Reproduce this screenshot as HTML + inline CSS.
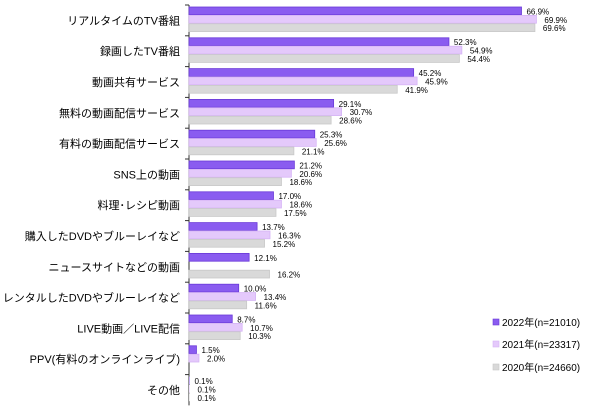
<!DOCTYPE html>
<html><head><meta charset="utf-8"><style>
body{margin:0;background:#fff;width:600px;height:413px;overflow:hidden;font-family:"Liberation Sans","Noto Sans CJK JP",sans-serif}
svg text{font-family:"Liberation Sans","Noto Sans CJK JP",sans-serif}
</style></head><body>
<svg id="c" width="600" height="413"></svg>
<script>
const categories=["リアルタイムのTV番組","録画したTV番組","動画共有サービス","無料の動画配信サービス","有料の動画配信サービス","SNS上の動画","料理･レシピ動画","購入したDVDやブルーレイなど","ニュースサイトなどの動画","レンタルしたDVDやブルーレイなど","LIVE動画／LIVE配信","PPV(有料のオンラインライブ)","その他"];
const s2022=[66.9,52.3,45.2,29.1,25.3,21.2,17.0,13.7,12.1,10.0,8.7,1.5,0.1];
const s2021=[69.9,54.9,45.9,30.7,25.6,20.6,18.6,16.3,null,13.4,10.7,2.0,0.1];
const s2020=[69.6,54.4,41.9,28.6,21.1,18.6,17.5,15.2,16.2,11.6,10.3,null,0.1];
const seriesNames=["2022年(n=21010)","2021年(n=23317)","2020年(n=24660)"];
const svg=document.getElementById('c');const NS="http://www.w3.org/2000/svg";
const X0=189,PX=4.97,Y0=5,GH=30.8,BH=8.4;
const fills=["#8a5cf0","#e4c9fb","#d9d9d9"],strokes=["#6a3ad8","#d6b4f6","#c8c8c8"];
const x=v=>X0+v*PX;
function el(t,a,txt){const e=document.createElementNS(NS,t);for(const k in a)e.setAttribute(k,a[k]);if(txt!=null)e.textContent=txt;svg.appendChild(e);return e;}
let ax=el('line',{x1:X0,y1:Y0,x2:X0,y2:Y0+GH*categories.length,stroke:'#333','stroke-width':1});

const series=[s2022,s2021,s2020];
categories.forEach((c,i)=>{
 const gy=Y0+i*GH;
 let tk=el('line',{x1:X0-4,y1:gy,x2:X0,y2:gy,stroke:'#333'});
 
 let lb=el('text',{x:180,y:gy+GH/2+4,'text-anchor':'end','font-size':11,fill:'#000'},c);
 
 series.forEach((s,j)=>{
  const v=s[i];if(v==null)return;
  const by=gy+2+j*BH;
  let r=el('rect',{x:X0,y:by,width:Math.max(0,x(v)-X0),height:BH-0.6,fill:fills[j],stroke:v>0.5?strokes[j]:'none','stroke-width':0.8});
  
  let t=el('text',{x:x(v)+5+(j?3:0),y:by+BH-1,'font-size':8,fill:'#000'},v.toFixed(1)+'%');
  
 });
});
const ly=[324,346,369];
seriesNames.forEach((n,j)=>{
 let r=el('rect',{x:493,y:ly[j]-5,width:6,height:6,fill:fills[j],stroke:strokes[j],'stroke-width':0.6});
 
 let t=el('text',{x:502,y:ly[j]+2,'font-size':10,fill:'#000'},n);
 
});
</script></body></html>
